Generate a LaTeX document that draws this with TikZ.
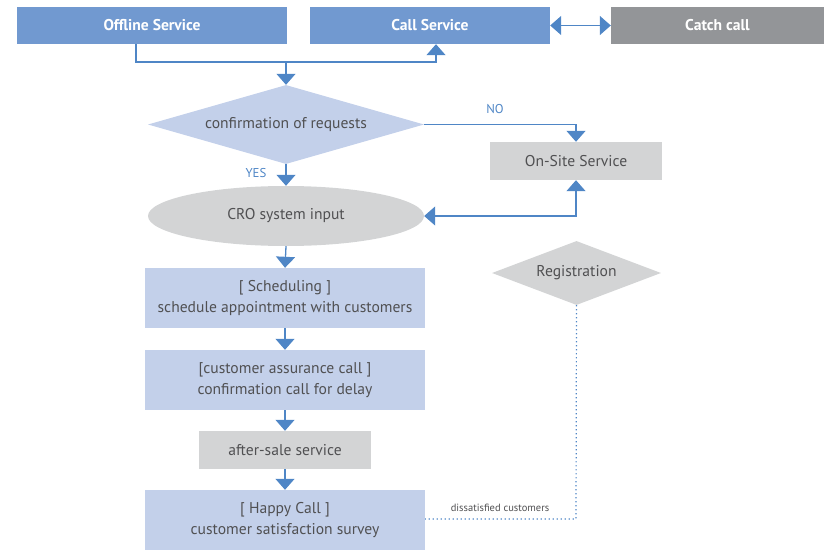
\documentclass[tikz,border=0pt]{standalone}
\usepackage{fontspec}
\setmainfont{PT Sans}
\usetikzlibrary{shapes.geometric,arrows.meta,calc}
\definecolor{topblue}{HTML}{7199D0}
\definecolor{topgray}{HTML}{939598}
\definecolor{lblue}{HTML}{C3D0EA}
\definecolor{lgray}{HTML}{D3D4D5}
\definecolor{txt}{HTML}{505052}
\definecolor{lnblue}{HTML}{4F86C6}
\tikzset{
  topbox/.style={draw=none,fill=#1,text=white,font=\bfseries\fontsize{15.6}{18}\selectfont,minimum height=37pt,inner sep=0pt},
  flowbox/.style={draw=none,fill=#1,text=txt,font=\fontsize{15.6}{21.5}\selectfont,align=center,inner sep=0pt},
  conn/.style={draw=lnblue,line width=1.3pt},
  arr/.style={-{Triangle[width=19pt,length=11pt]}},
  darr/.style={{Triangle[width=19pt,length=11pt]}-{Triangle[width=19pt,length=11pt]}},
  lab/.style={text=lnblue,font=\fontsize{12.8}{14}\selectfont,inner sep=0pt},
  dotconn/.style={draw=lnblue,line width=1.2pt,dash pattern=on 1.2pt off 2.8pt},
}
\begin{document}
\begin{tikzpicture}[x=1pt,y=-1pt]
\useasboundingbox (0,0) rectangle (824,551);
% top row
\node[topbox=topblue,minimum width=270pt] (off) at (152,25.5) {Offline Service};
\node[topbox=topblue,minimum width=240pt] (call) at (430,25.5) {Call Service};
\node[topbox=topgray,minimum width=213pt] (catch) at (717.5,25.5) {Catch call};
% decision
\node[flowbox=lblue,shape=diamond,aspect=3.49,minimum width=276pt,minimum height=79pt] (conf) at (286,124.5) {confirmation of requests};
\node[flowbox=lgray,minimum width=172pt,minimum height=38pt] (onsite) at (576,161) {On-Site Service};
\node[flowbox=lgray,shape=ellipse,minimum width=276pt,minimum height=60pt] (cro) at (286,216) {CRO system input};
\node[flowbox=lblue,minimum width=280pt,minimum height=60pt] (sched) at (285,298) {[ Scheduling ]\\schedule appointment with customers};
\node[flowbox=lblue,minimum width=280pt,minimum height=60pt] (assur) at (285,380) {[customer assurance call ]\\confirmation call for delay};
\node[flowbox=lgray,minimum width=172pt,minimum height=38pt] (after) at (285,450) {after-sale service};
\node[flowbox=lblue,minimum width=280pt,minimum height=60pt] (happy) at (285,520) {[ Happy Call ]\\customer satisfaction survey};
\node[flowbox=lgray,shape=diamond,aspect=2.64,minimum width=169pt,minimum height=64pt] (reg) at (576.5,273) {Registration};
% junction coordinates
\coordinate (j1) at (286,62);
\coordinate (j2) at (576,124.5);
\coordinate (j3) at (576,216);
\coordinate (j4) at (576,519);
% connectors
\draw[conn,darr] (call.east) -- (catch.west);
\draw[conn] ([xshift=-16pt]off.south) |- (j1);
\draw[conn,arr] (j1) -| ([xshift=6pt]call.south);
\draw[conn,arr] (j1) -- (conf.north);
\draw[conn,arr] (conf.east) -- (j2) -- (onsite.north);
\node[lab] (no) at (495,109) {NO};
\draw[conn,arr] (conf.south) -- (cro.north);
\node[lab] (yes) at (256,173) {YES};
\draw[conn,darr] (cro.east) -- (j3) -- (onsite.south);
\draw[conn,arr] (cro.south) -- (sched.north);
\draw[conn,arr] (sched.south) -- (assur.north);
\draw[conn,arr] (assur.south) -- (after.north);
\draw[conn,arr] (after.south) -- (happy.north);
\draw[dotconn] (reg.south) -- (j4) -- (happy.east |- j4);
\node[text=txt,font=\fontsize{10.5}{12}\selectfont,inner sep=0pt] (dis) at (500,508) {dissatisfied customers};
\end{tikzpicture}
\end{document}
